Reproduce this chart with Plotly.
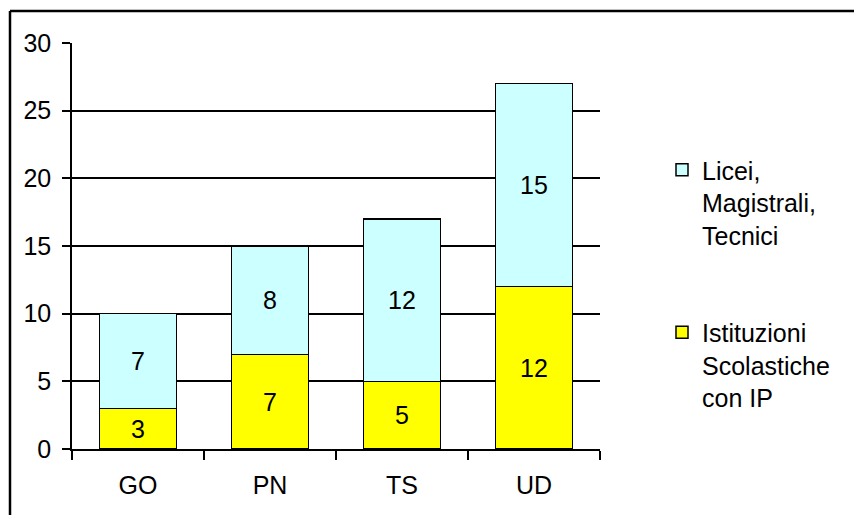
import plotly.graph_objects as go

categories = ["GO", "PN", "TS", "UD"]
istituzioni = [3, 7, 5, 12]
licei = [7, 8, 12, 15]
y_ticks = [0, 5, 10, 15, 20, 25, 30]

FONT = "Liberation Sans, Arial, sans-serif"
FS = 25

fig = go.Figure()
fig.add_trace(go.Bar(
    x=categories, y=istituzioni, name="Istituzioni<br>Scolastiche<br>con IP",
    marker=dict(color="#FFFF00", line=dict(color="black", width=1.5)),
    text=[str(v) for v in istituzioni], textposition="inside",
    insidetextanchor="middle", textfont=dict(color="black", size=FS, family=FONT),
    legendgroup="b", legendrank=2, constraintext="none",
))
fig.add_trace(go.Bar(
    x=categories, y=licei, name="Licei,<br>Magistrali,<br>Tecnici",
    marker=dict(color="#CCFFFF", line=dict(color="black", width=1.5)),
    text=[str(v) for v in licei], textposition="inside",
    insidetextanchor="middle", textfont=dict(color="black", size=FS, family=FONT),
    legendgroup="a", legendrank=1, constraintext="none",
))

W, H = 854, 515
L, R, T, B = 72, 254, 43, 66
pw, ph = W - L - R, H - T - B

fig.update_layout(
    width=W, height=H,
    margin=dict(l=L, r=R, t=T, b=B, autoexpand=False),
    barmode="stack", bargap=0.42,
    plot_bgcolor="white", paper_bgcolor="white",
    font=dict(family=FONT, size=FS, color="black"),
    showlegend=True,
    legend=dict(
        x=(662 - L) / pw, xanchor="left",
        y=(449 - 147) / ph, yanchor="top",
        traceorder="grouped", tracegroupgap=62,
        valign="top", font=dict(size=FS, family=FONT, color="black"),
        bgcolor="rgba(0,0,0,0)", itemwidth=30,
    ),
    xaxis=dict(
        showline=True, linecolor="black", linewidth=1.5,
        ticks="outside", tickson="boundaries", ticklen=9, tickcolor="black",
        tickwidth=1.5, showgrid=False, ticklabelstandoff=13,
        tickfont=dict(size=FS),
    ),
    yaxis=dict(
        range=[0, 30], tickvals=y_ticks, showline=True, linecolor="black",
        linewidth=1.5, ticks="outside", ticklen=8, tickcolor="black",
        tickwidth=1.5, showgrid=True, gridcolor="black", gridwidth=1.5,
        zeroline=False, ticklabelstandoff=6, tickfont=dict(size=FS),
    ),
    shapes=[
        dict(type="line", xref="paper", yref="paper",
             x0=(10 - L) / pw, x1=(860 - L) / pw,
             y0=(449 - 11) / ph, y1=(449 - 11) / ph,
             line=dict(color="black", width=2.5)),
        dict(type="line", xref="paper", yref="paper",
             x0=(10 - L) / pw, x1=(10 - L) / pw,
             y0=(449 - 11) / ph, y1=(449 - 520) / ph,
             line=dict(color="black", width=2.5)),
    ],
)

fig.write_html("out.html", config={"displayModeBar": False},
               post_script="document.body.style.margin='0';")
